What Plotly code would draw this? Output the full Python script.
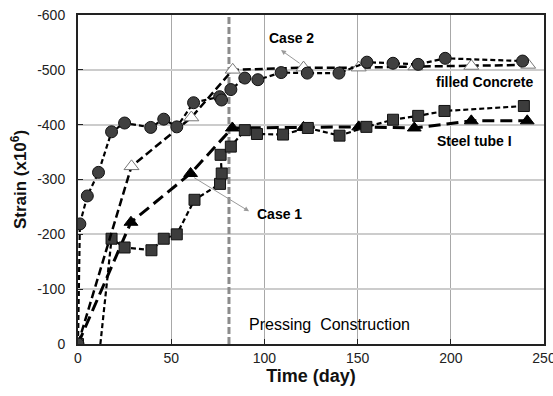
import plotly.graph_objects as go

# Filled concrete (Case 2) - circles
circ_day = [0, 1, 5, 11, 18, 25, 39, 46, 53, 62, 76, 77, 82, 89.5, 96.5, 109, 123, 140, 155, 169, 182.5, 197, 238.5]
circ_val = [0, -219, -270, -313, -387, -403, -395, -410, -396, -440, -451, -445, -464, -485, -482, -495, -494, -494, -514, -512, -510, -521, -516]

# Case 2 - open triangles
otri_day = [0, 28.7, 60.8, 83, 121, 150.6, 181, 211, 241.5]
otri_val = [0, -324, -413, -500, -504, -504, -506, -507, -509]

# Steel tube (Case 1) - squares; the dashed line starts at day 12 (no marker there)
sq_line_start_day = 12
sq_day = [0, 18, 25, 39.4, 46, 53, 62.5, 76.2, 77.1, 76.5, 82, 89.5, 96, 110, 123.3, 140.3, 154.7, 169, 182.5, 196.6, 239.2]
sq_val = [0, -192, -176, -171, -192, -200, -263, -292, -311, -345, -360, -390, -383, -382, -394, -380, -396, -409, -416, -425, -434]

# Case 1 - filled triangles
ftri_day = [0, 28.4, 60.4, 82.8, 121, 150.6, 180.4, 211, 241]
ftri_val = [0, -222, -311, -394, -395, -396, -394, -407, -407]

press_day = 81

x_ticks = [0, 50, 100, 150, 200, 250]
y_ticks = [0, -100, -200, -300, -400, -500, -600]

fig = go.Figure()

fig.add_trace(go.Scatter(x=[press_day, press_day], y=[0, -600], mode="lines",
                         line=dict(color="#8c8c8c", width=3, dash="7px,3px"),
                         hoverinfo="skip", showlegend=False))

fig.add_trace(go.Scatter(x=ftri_day, y=ftri_val, mode="lines+markers",
                         line=dict(color="black", width=3, dash="12px,6px"),
                         marker=dict(symbol="triangle-up", size=12, color="black",
                                     line=dict(color="black", width=1)),
                         showlegend=False))
fig.add_trace(go.Scatter(x=[sq_line_start_day] + sq_day[1:], y=[0] + sq_val[1:], mode="lines",
                         line=dict(color="black", width=2.2, dash="5px,3px"),
                         showlegend=False))
fig.add_trace(go.Scatter(x=sq_day, y=sq_val, mode="markers",
                         marker=dict(symbol="square", size=11, color="#3c3c3c",
                                     line=dict(color="#111111", width=1)),
                         showlegend=False))
fig.add_trace(go.Scatter(x=otri_day, y=otri_val, mode="lines+markers",
                         line=dict(color="black", width=2.5, dash="8px,4px"),
                         marker=dict(symbol="triangle-up", size=13, color="white",
                                     line=dict(color="#777777", width=1)),
                         showlegend=False))
fig.add_trace(go.Scatter(x=circ_day, y=circ_val, mode="lines+markers",
                         line=dict(color="black", width=2.2, dash="5px,3px"),
                         marker=dict(symbol="circle", size=12, color="#404040",
                                     line=dict(color="#111111", width=1)),
                         showlegend=False))

ann_font = dict(family="Liberation Sans, Arial", size=14, color="black")
annotations = [
    dict(x=108.9, y=-536, ax=119.7, ay=-510, xref="x", yref="y", axref="x", ayref="y",
         showarrow=True, arrowhead=2, arrowsize=1, arrowwidth=1, arrowcolor="#9a9a9a", text=""),
    dict(x=114.3, y=-558, text="<b>Case 2</b>", showarrow=False, font=ann_font),
    dict(x=91.8, y=-242, ax=61.5, ay=-305, xref="x", yref="y", axref="x", ayref="y",
         showarrow=True, arrowhead=2, arrowsize=1, arrowwidth=1, arrowcolor="#9a9a9a", text=""),
    dict(x=94.9, y=-238, text="<b>Case 1</b>", showarrow=False, xanchor="left", font=ann_font),
    dict(x=218.3, y=-478, text="<b>filled Concrete</b>", showarrow=False, font=ann_font),
    dict(x=212.7, y=-371, text="<b>Steel tube I</b>", showarrow=False, font=ann_font),
    dict(x=134.8, y=-36, text="Pressing  Construction", showarrow=False,
         font=dict(family="Liberation Sans, Arial", size=16, color="black")),
]
for a in annotations:
    a.setdefault("xref", "x")
    a.setdefault("yref", "y")
    fig.add_annotation(**a)

fig.update_layout(
    width=553, height=396,
    margin=dict(l=78, r=9, t=15, b=52),
    paper_bgcolor="white", plot_bgcolor="white",
    font=dict(family="Liberation Sans, Arial", size=14, color="#222222"),
    xaxis=dict(range=[0, 250], tickvals=x_ticks, ticktext=[str(v) for v in x_ticks],
               automargin=False, ticklabeloverflow="allow",
               showgrid=True, gridcolor="#a8a8a8", gridwidth=1,
               showline=True, linecolor="#222222", linewidth=2, mirror=True,
               ticks="inside", ticklen=5, tickcolor="#222222", zeroline=False,
               title=dict(text="<b>Time (day)</b>", font=dict(size=18, color="#111111"), standoff=2),
               tickfont=dict(size=14, color="#222222")),
    yaxis=dict(range=[0, -600], tickvals=y_ticks, ticktext=[str(v) for v in y_ticks],
               automargin=False,
               showgrid=True, gridcolor="#cccccc", gridwidth=1.5,
               showline=True, linecolor="#222222", linewidth=2, mirror=True,
               ticks="inside", ticklen=5, tickcolor="#222222", zeroline=False,
               ticklabelstandoff=8,
               title=dict(text="<b>Strain (x10<sup>6</sup>)</b>", font=dict(size=17, color="#111111"), standoff=6),
               tickfont=dict(size=14, color="#222222")),
)

fig.write_html("out.html")
